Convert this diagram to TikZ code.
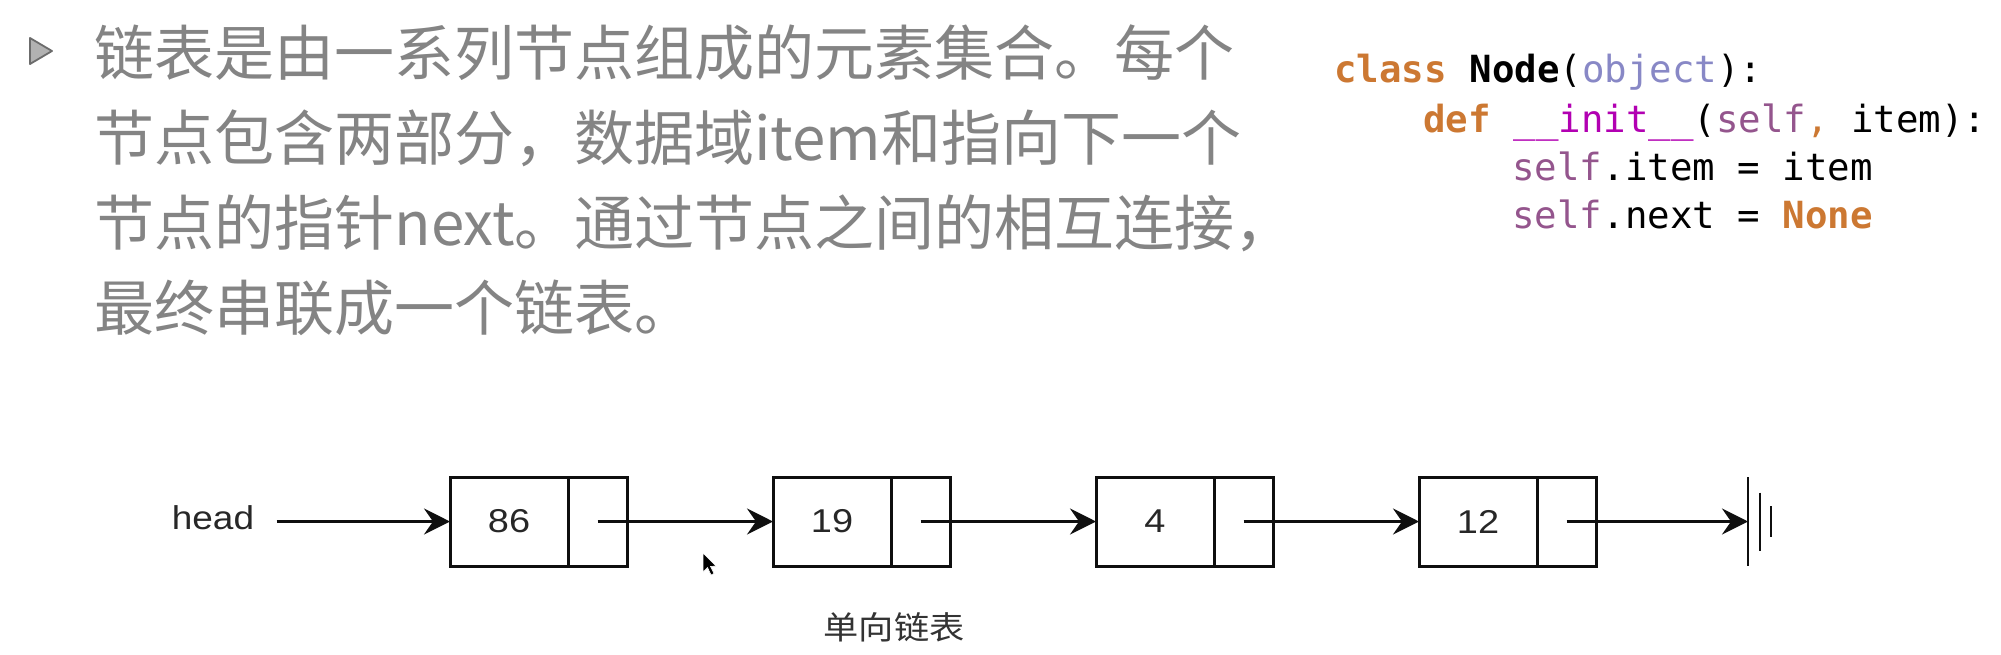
\documentclass[tikz,border=0pt]{standalone}
\usepackage{graphicx}
\usepackage{fontspec}
\setmainfont{Liberation Sans}
\newfontfamily\cjk{Noto Sans CJK SC}
\newfontfamily\mono{DejaVu Sans Mono}
\usetikzlibrary{arrows.meta}
\definecolor{txtgray}{RGB}{132,132,132}
\definecolor{kw}{RGB}{204,120,50}
\definecolor{builtin}{RGB}{136,136,198}
\definecolor{magic}{RGB}{178,0,178}
\definecolor{selfc}{RGB}{148,85,141}
\definecolor{ink}{RGB}{15,15,15}
\begin{document}
\begin{tikzpicture}[x=0.5pt,y=-0.5pt,
  para/.style={anchor=base west, inner sep=0, text=txtgray, font=\cjk\fontsize{30}{36}\selectfont},
  code/.style={anchor=base west, inner sep=0, font=\mono\fontsize{18.7}{22}\selectfont},
  cell/.style={draw=ink, line width=1.5pt, minimum height=44.5pt, inner sep=0, outer sep=0, text=ink!90, font=\fontsize{16.5}{19}\selectfont},
  datacell/.style={cell, minimum width=59pt},
  ptrcell/.style={cell, minimum width=29.5pt},
  link/.style={draw=ink, line width=1.5pt, -{Stealth[length=13pt,width=13pt,inset=4.5pt]}},
  groundline/.style={draw=ink, line width=1.2pt},
]
\useasboundingbox (0,0) rectangle (2001,654);
\fill[white] (0,0) rectangle (2001,654);

% bullet
\draw[gray!85!black, fill=gray!60, line width=0.9pt, line join=round] (30,38) -- (52,51) -- (30,64) -- cycle;

% paragraph
\node[para] (l1) at (94,75) {链表是由一系列节点组成的元素集合。每个};
\node[para] (l2) at (94,160) {节点包含两部分，数据域item和指向下一个};
\node[para] (l3) at (94,245) {节点的指针next。通过节点之间的相互连接，};
\node[para] (l4) at (94,330) {最终串联成一个链表。};

% code
\node[code] (c1) at (1334,82) {\textcolor{kw}{\bfseries class} \textbf{Node}(\textcolor{builtin}{object}):};
\node[code] (c2) at (1423,132) {\textcolor{kw}{\bfseries def} \textcolor{magic}{\_\_init\_\_}(\textcolor{selfc}{self}\textcolor{kw}{,} item):};
\node[code] (c3) at (1512,180) {\textcolor{selfc}{self}.item = item};
\node[code] (c4) at (1512,228) {\textcolor{selfc}{self}.next = \textcolor{kw}{\bfseries None}};

% linked list
\node[inner sep=0, text=ink!90, font=\fontsize{16.5}{19}\selectfont] (head) at (213,518) {\scalebox{1.12}[1]{head}};

\node[datacell] (d1) at (509,521.5) {\scalebox{1.15}[1]{86}};
\node[ptrcell]  (p1) at (597.5,521.5) {};
\node[datacell] (d2) at (832,521.5) {\scalebox{1.15}[1]{19}};
\node[ptrcell]  (p2) at (920.5,521.5) {};
\node[datacell] (d3) at (1155,521.5) {\scalebox{1.15}[1]{4}};
\node[ptrcell]  (p3) at (1243.5,521.5) {};
\node[datacell] (d4) at (1478,521.5) {\scalebox{1.15}[1]{12}};
\node[ptrcell]  (p4) at (1566.5,521.5) {};
\coordinate (nil) at (1748,521.5);

\draw[link] ([xshift=11pt]head.east |- d1.west) -- (d1.west);
\draw[link] (p1.center) -- (d2.west);
\draw[link] (p2.center) -- (d3.west);
\draw[link] (p3.center) -- (d4.west);
\draw[link] (p4.center) -- (nil);

\draw[groundline] (nil) ++(0,-44.5) -- ++(0,89);
\draw[groundline] (nil) ++(12,-29) -- ++(0,58);
\draw[groundline] (nil) ++(23,-15.5) -- ++(0,31);

\node[inner sep=0, text=ink!85, font=\cjk\fontsize{16}{18}\selectfont] (cap) at (894,627) {\scalebox{1.1}[1]{单向链表}};

% mouse cursor
\fill[black, draw=white, line width=0.3pt] (703,553) -- (703,572) -- (707.5,567.5) -- (711,575) -- (714,573.5) -- (710.5,566.5) -- (716,566) -- cycle;
\end{tikzpicture}
\end{document}
